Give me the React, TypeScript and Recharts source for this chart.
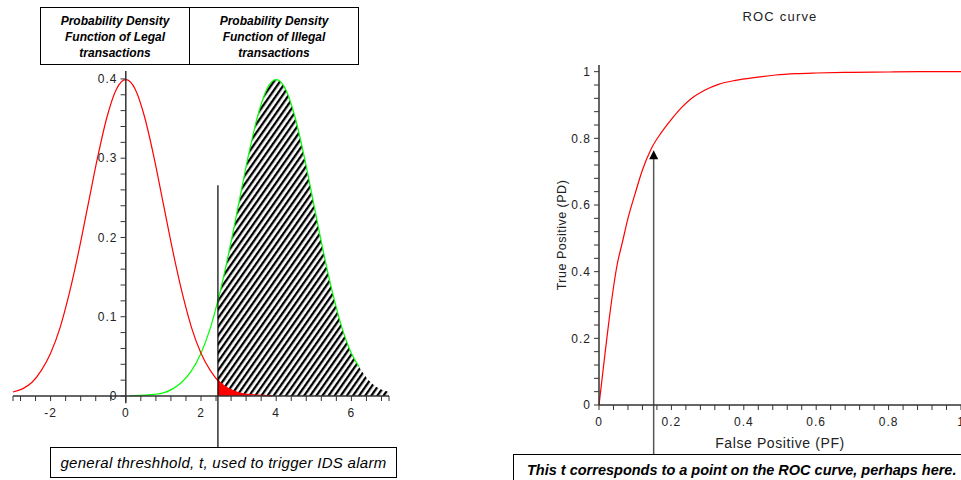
import React from "react";
import {
  ComposedChart,
  LineChart,
  Line,
  Area,
  XAxis,
  YAxis,
  ReferenceLine,
  ReferenceDot,
} from "recharts";

// legal transactions pdf (red)
const legalX = [-3, -2.75, -2.5, -2.25, -2, -1.75, -1.5, -1.25, -1, -0.75, -0.5, -0.25, 0, 0.25, 0.5, 0.75, 1, 1.25, 1.5, 1.75, 2, 2.25, 2.5, 2.75, 3, 3.25, 3.5, 3.75, 3.9];
const legalY = [0.005, 0.009, 0.017, 0.032, 0.054, 0.086, 0.13, 0.183, 0.242, 0.301, 0.352, 0.387, 0.399, 0.387, 0.352, 0.301, 0.242, 0.183, 0.13, 0.086, 0.054, 0.032, 0.017, 0.009, 0.004, 0.002, 0.001, 0.0004, 0.0002];

// illegal transactions pdf (green)
const illegalX = [0.1, 0.25, 0.5, 0.75, 1, 1.25, 1.5, 1.75, 2, 2.25, 2.5, 2.75, 3, 3.25, 3.5, 3.75, 4, 4.25, 4.5, 4.75, 5, 5.25, 5.5, 5.75, 6, 6.2];
const illegalY = [0.0002, 0.0004, 0.001, 0.002, 0.004, 0.009, 0.018, 0.032, 0.054, 0.086, 0.13, 0.183, 0.242, 0.301, 0.352, 0.387, 0.399, 0.387, 0.352, 0.301, 0.242, 0.183, 0.13, 0.086, 0.054, 0.037];

// hatched area right of the threshold
const hatchX = [2.45, 2.75, 3, 3.25, 3.5, 3.75, 4, 4.25, 4.5, 4.75, 5, 5.25, 5.5, 5.75, 6, 6.2, 6.5, 6.75, 7];
const hatchY = [0.12, 0.183, 0.242, 0.301, 0.352, 0.387, 0.399, 0.387, 0.352, 0.301, 0.242, 0.183, 0.13, 0.086, 0.054, 0.037, 0.018, 0.009, 0.005];

// red false-alarm area
const redFillX = [2.45, 2.6, 2.8, 3, 3.3];
const redFillY = [0.021, 0.014, 0.008, 0.004, 0.0015];

const threshold = 2.45;

const leftXTicks = [-3, -2.8, -2.4, -2, -1.6, -1.2, -0.8, -0.4, 0, 0.4, 0.8, 1.2, 1.6, 2, 2.4, 2.8, 3.2, 3.6, 4, 4.4, 4.8, 5.2, 5.6, 6, 6.4, 6.8, 7];
const leftXLabels = [-2, 0, 2, 4, 6];
const leftYTicks = [0, 0.02, 0.04, 0.06, 0.08, 0.1, 0.12, 0.14, 0.16, 0.18, 0.2, 0.22, 0.24, 0.26, 0.28, 0.3, 0.32, 0.34, 0.36, 0.38, 0.4];
const leftYLabels = [0, 0.1, 0.2, 0.3, 0.4];

// ROC curve
const rocPF = [0, 0.014, 0.025, 0.037, 0.05, 0.065, 0.08, 0.1, 0.12, 0.144, 0.172, 0.2, 0.228, 0.256, 0.293, 0.33, 0.377, 0.433, 0.488, 0.544, 0.6, 0.7, 0.8, 0.9, 1];
const rocPD = [0, 0.13, 0.23, 0.33, 0.42, 0.49, 0.56, 0.635, 0.705, 0.768, 0.817, 0.857, 0.892, 0.92, 0.945, 0.962, 0.974, 0.983, 0.99, 0.994, 0.996, 0.998, 0.999, 1, 1];
const rocPointPF = 0.151;
const rocPointPD = 0.764;

const rocTicks = [0, 0.04, 0.08, 0.12, 0.16, 0.2, 0.24, 0.28, 0.32, 0.36, 0.4, 0.44, 0.48, 0.52, 0.56, 0.6, 0.64, 0.68, 0.72, 0.76, 0.8, 0.84, 0.88, 0.92, 0.96, 1];
const rocLabels = [0, 0.2, 0.4, 0.6, 0.8, 1];

const legalData = legalX.map((x, i) => ({ x, y: legalY[i] }));
const illegalData = illegalX.map((x, i) => ({ x, y: illegalY[i] }));
const hatchData = hatchX.map((x, i) => ({ x, y: hatchY[i] }));
const redFillData = redFillX.map((x, i) => ({ x, y: redFillY[i] }));
const rocData = rocPF.map((pf, i) => ({ pf, pd: rocPD[i] }));

const FONT = '"Liberation Sans", Arial, Helvetica, sans-serif';
const AXIS = "#333";
const TXT = "#222";

const inList = (v: number, list: number[]) => list.some((m) => Math.abs(m - v) < 1e-6);

const XTick = (labels: number[]) => (props: any) => {
  const { x, y, payload } = props;
  if (!inList(payload.value, labels)) return <g />;
  return (
    <text x={x} y={y} dy="0.71em" textAnchor="middle" fontSize={12} fill={TXT} letterSpacing={1} fontFamily={FONT}>
      {String(payload.value)}
    </text>
  );
};

const YTick = (labels: number[]) => (props: any) => {
  const { x, y, payload } = props;
  if (!inList(payload.value, labels)) return <g />;
  return (
    <text x={x} y={y} dy="0.355em" textAnchor="end" fontSize={12} fill={TXT} letterSpacing={1} fontFamily={FONT}>
      {String(payload.value)}
    </text>
  );
};

const RocYLabel = (props: any) => {
  const { viewBox } = props;
  const cx = viewBox.x + 23;
  const cy = viewBox.y + viewBox.height / 2;
  return (
    <text x={cx} y={cy} transform={`rotate(-90 ${cx} ${cy})`} textAnchor="middle" dy="0.355em" fontSize={12.5} letterSpacing={0.5} fill={TXT} fontFamily={FONT}>
      True Positive (PD)
    </text>
  );
};

const ArrowHead = (props: any) => {
  const { cx, cy } = props;
  return <polygon points={`${cx},${cy} ${cx - 4.5},${cy + 9} ${cx + 4.5},${cy + 9}`} fill="#000" />;
};

const boxText: React.CSSProperties = {
  position: "absolute",
  border: "1px solid #000",
  boxSizing: "border-box",
  background: "#fff",
  fontStyle: "italic",
  color: "#000",
  fontSize: 14,
  whiteSpace: "nowrap",
};

const headCell: React.CSSProperties = {
  position: "absolute",
  top: 0,
  bottom: 0,
  textAlign: "center",
  fontSize: 12,
  fontStyle: "italic",
  fontWeight: "bold",
  lineHeight: "16px",
  paddingTop: 5,
  boxSizing: "border-box",
};

export default function App() {
  return (
    <div
      style={{
        position: "absolute",
        left: 0,
        top: 0,
        width: 961,
        height: 480,
        overflow: "hidden",
        background: "#fff",
        fontFamily: FONT,
      }}
    >
      <div style={{ position: "absolute", left: 0, top: 0 }}>
        <ComposedChart width={400} height={480} margin={{ top: 71, right: 11, bottom: 54, left: 13 }}>
          <defs>
            <pattern id="hatch" width="5" height="10" patternUnits="userSpaceOnUse" patternTransform="rotate(35)">
              <rect width="5" height="10" fill="#fff" />
              <rect width="2.3" height="10" fill="#000" />
            </pattern>
          </defs>
          <XAxis
            type="number"
            dataKey="x"
            domain={[-3, 7]}
            ticks={leftXTicks}
            interval={0}
            height={30}
            tickSize={5}
            tickMargin={7}
            axisLine={{ stroke: AXIS, strokeWidth: 1.5 }}
            tickLine={{ stroke: AXIS }}
            tick={XTick(leftXLabels)}
          />
          <YAxis type="number" hide domain={[0, 0.41]} />
          <Area data={hatchData} dataKey="y" type="monotone" stroke="none" fill="url(#hatch)" fillOpacity={1} isAnimationActive={false} />
          <Area data={redFillData} dataKey="y" type="monotone" stroke="none" fill="#ff0000" fillOpacity={1} isAnimationActive={false} />
          <Line data={illegalData} dataKey="y" type="monotone" stroke="#00ff00" strokeWidth={1.2} dot={false} isAnimationActive={false} />
          <Line data={legalData} dataKey="y" type="monotone" stroke="#ff0000" strokeWidth={1.2} dot={false} isAnimationActive={false} />
          <ReferenceLine
            segment={[{ x: 0, y: -0.009 }, { x: 0, y: 0.41 }]}
            stroke={AXIS}
            strokeWidth={1.5}
            ifOverflow="visible"
          />
          {leftYTicks.map((v) => (
            <ReferenceLine
              key={v}
              segment={[{ x: -0.14, y: v }, { x: 0, y: v }]}
              stroke={AXIS}
              ifOverflow="visible"
              label={
                inList(v, leftYLabels)
                  ? { value: String(v), position: "left", offset: 3, fontSize: 12, fill: TXT, letterSpacing: 1 }
                  : undefined
              }
            />
          ))}
          <ReferenceLine
            segment={[{ x: threshold, y: 0.266 }, { x: threshold, y: -0.065 }]}
            stroke="#000"
            strokeWidth={1.2}
            ifOverflow="visible"
          />
        </ComposedChart>
      </div>

      <div style={{ position: "absolute", left: 500, top: 0 }}>
        <LineChart width={490} height={480} margin={{ top: 65, right: 29, bottom: 45, left: 39 }}>
          <XAxis
            type="number"
            dataKey="pf"
            domain={[0, 1]}
            ticks={rocTicks}
            interval={0}
            height={30}
            tickSize={5}
            tickMargin={7}
            axisLine={{ stroke: AXIS, strokeWidth: 1.5 }}
            tickLine={{ stroke: AXIS }}
            tick={XTick(rocLabels)}
            label={{ value: "False Positive (PF)", position: "bottom", offset: 3, fontSize: 14, fill: TXT, letterSpacing: 0.6 }}
          />
          <YAxis
            type="number"
            domain={[0, 1.02]}
            ticks={rocTicks}
            interval={0}
            width={60}
            tickSize={5}
            tickMargin={3}
            axisLine={{ stroke: AXIS, strokeWidth: 1.5 }}
            tickLine={{ stroke: AXIS }}
            tick={YTick(rocLabels)}
            label={<RocYLabel />}
          />
          <Line data={rocData} dataKey="pd" type="monotone" stroke="#ff0000" strokeWidth={1.2} dot={false} isAnimationActive={false} />
          <ReferenceLine
            segment={[{ x: rocPointPF, y: rocPointPD - 0.02 }, { x: rocPointPF, y: -0.147 }]}
            stroke="#555"
            strokeWidth={1.5}
            ifOverflow="visible"
          />
          <ReferenceDot x={rocPointPF} y={rocPointPD} r={0} shape={ArrowHead} ifOverflow="visible" />
        </LineChart>
      </div>

      <div style={{ position: "absolute", left: 680, top: 9, width: 200, textAlign: "center", fontSize: 13, letterSpacing: 1.2, lineHeight: "15px", color: TXT }}>
        ROC curve
      </div>

      <div style={{ ...boxText, left: 40, top: 7, width: 319, height: 58, fontSize: 12 }}>
        <div style={{ ...headCell, left: 0, width: 149, borderRight: "1px solid #000" }}>
          <div>Probability Density</div>
          <div>Function of Legal</div>
          <div>transactions</div>
        </div>
        <div style={{ ...headCell, left: 149, right: 0 }}>
          <div>Probability Density</div>
          <div>Function of Illegal</div>
          <div>transactions</div>
        </div>
      </div>

      <div style={{ ...boxText, left: 50, top: 447, width: 347, height: 31, lineHeight: "29px", textAlign: "center", fontSize: 15, letterSpacing: 0.3 }}>
        general threshhold, t, used to trigger IDS alarm
      </div>

      <div style={{ ...boxText, left: 513, top: 454, width: 470, height: 40, lineHeight: "18px", paddingTop: 6, paddingLeft: 13, fontWeight: "bold", fontSize: 14.5 }}>
        This t corresponds to a point on the ROC curve, perhaps here.
      </div>
    </div>
  );
}
